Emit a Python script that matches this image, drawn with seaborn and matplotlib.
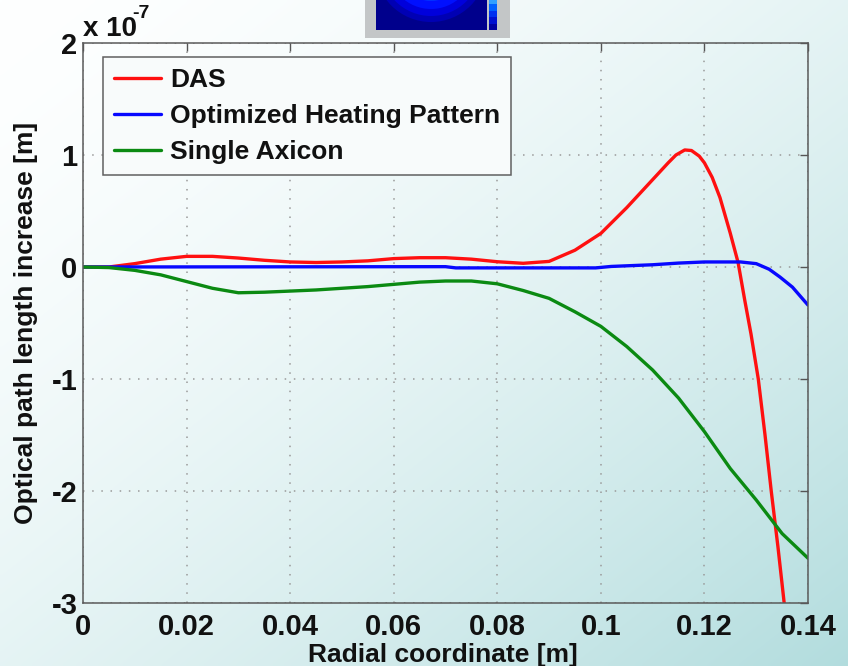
import numpy as np
import pandas as pd
import matplotlib
matplotlib.use("Agg")
import matplotlib.pyplot as plt
from matplotlib.patches import Circle, Rectangle
import seaborn as sns

# Radial coordinate [m] and optical path length increase [x 1e-7 m]
das_r = [0.0, 0.005, 0.01, 0.015, 0.02, 0.025, 0.03, 0.035, 0.04, 0.045,
         0.05, 0.055, 0.06, 0.065, 0.07, 0.075, 0.08, 0.085, 0.09, 0.095,
         0.1, 0.105, 0.11, 0.113, 0.1145, 0.1162, 0.1175, 0.119, 0.12, 0.1215,
         0.123, 0.125, 0.1265, 0.1278, 0.129, 0.1304, 0.1317, 0.1329, 0.1342,
         0.1354, 0.1362]
das_opl = [0.0, 0.0, 0.03, 0.07, 0.095, 0.095, 0.08, 0.06, 0.045, 0.04,
           0.045, 0.055, 0.075, 0.083, 0.083, 0.07, 0.047, 0.033, 0.05, 0.15,
           0.30, 0.53, 0.78, 0.93, 1.00, 1.045, 1.04, 0.99, 0.93, 0.80,
           0.62, 0.30, 0.04, -0.30, -0.60, -1.0, -1.5, -2.0, -2.5,
           -3.0, -3.3]

opt_r = [0.0, 0.07, 0.072, 0.099, 0.102, 0.11, 0.115, 0.12, 0.127, 0.13,
         0.1325, 0.1346, 0.137, 0.14]
opt_opl = [0.0, 0.003, -0.008, -0.008, 0.005, 0.02, 0.035, 0.045, 0.045, 0.03,
           -0.02, -0.09, -0.18, -0.34]

axi_r = [0.0, 0.005, 0.01, 0.015, 0.02, 0.025, 0.03, 0.035, 0.04, 0.045,
         0.05, 0.055, 0.06, 0.065, 0.07, 0.075, 0.08, 0.085, 0.09, 0.095,
         0.1, 0.105, 0.11, 0.115, 0.12, 0.125, 0.13, 0.135, 0.14]
axi_opl = [0.0, -0.005, -0.03, -0.07, -0.13, -0.19, -0.23, -0.225, -0.215, -0.205,
           -0.19, -0.175, -0.155, -0.135, -0.125, -0.125, -0.15, -0.21, -0.28, -0.40,
           -0.53, -0.71, -0.92, -1.17, -1.47, -1.80, -2.08, -2.38, -2.60]

series_names = ["DAS", "Optimized Heating Pattern", "Single Axicon"]
series_colors = ["#ff1010", "#0808ff", "#0b8a12"]

x_ticks = [0, 0.02, 0.04, 0.06, 0.08, 0.1, 0.12, 0.14]
x_tick_labels = ["0", "0.02", "0.04", "0.06", "0.08", "0.1", "0.12", "0.14"]
y_ticks = [-3, -2, -1, 0, 1, 2]

df = pd.concat([
    pd.DataFrame({"r": das_r, "opl": das_opl, "series": series_names[0]}),
    pd.DataFrame({"r": opt_r, "opl": opt_opl, "series": series_names[1]}),
    pd.DataFrame({"r": axi_r, "opl": axi_opl, "series": series_names[2]}),
], ignore_index=True)

sns.set_theme(style="white")
plt.rcParams["font.family"] = ["Liberation Sans", "DejaVu Sans"]
plt.rcParams["font.weight"] = "bold"
plt.rcParams["axes.unicode_minus"] = False

W, H = 848, 666
fig = plt.figure(figsize=(W / 100, H / 100), dpi=100)

# soft diagonal backdrop, white at top-left to pale teal at bottom-right
bg = fig.add_axes([0, 0, 1, 1], zorder=-10)
u = np.linspace(0, 1, 212)[None, :]
v = np.linspace(0, 1, 167)[:, None]
t = ((u + v) / 2) ** 1.6
c0 = np.array([0.995, 1.0, 1.0])
c1 = np.array([0.70, 0.865, 0.87])
img = c0[None, None, :] + (c1 - c0)[None, None, :] * t[:, :, None]
bg.imshow(img, aspect="auto", interpolation="bilinear", extent=[0, 1, 0, 1])
bg.set_axis_off()

# small colour-map thumbnail at the top edge
th = fig.add_axes([365 / W, 1 - 38 / H, 145 / W, 38 / H], zorder=-5)
th.set_xlim(365, 510)
th.set_ylim(38, 0)
th.set_facecolor("#c3c6c7")
th.add_patch(Rectangle((376, -5), 111, 35, facecolor="#00008c", edgecolor="none"))
for rad, col in [(56, "#0000b4"), (50, "#0000dc"), (43, "#0010ff"), (35, "#0030ff"), (26, "#0048ff")]:
    c = Circle((431, -34), rad, facecolor=col, edgecolor="none")
    th.add_patch(c)
    c.set_clip_path(Rectangle((376, -5), 111, 35, transform=th.transData))
cb_cols = ["#30a0ff", "#0060ff", "#0030f0", "#0010d0", "#0000a0"]
for i, col in enumerate(cb_cols):
    th.add_patch(Rectangle((489, -2 + i * 6.4), 8, 6.4, facecolor=col, edgecolor="none"))
th.set_xticks([])
th.set_yticks([])
for s in th.spines.values():
    s.set_visible(False)

ax = fig.add_axes([83 / W, 1 - 603 / H, 725 / W, 560 / H])
ax.set_facecolor("none")

sns.lineplot(data=df, x="r", y="opl", hue="series", hue_order=series_names,
             palette=dict(zip(series_names, series_colors)), sort=False,
             estimator=None, linewidth=2.4, ax=ax, legend=True)

ax.set_xlim(0, 0.14)
ax.set_ylim(-3, 2)
ax.set_xticks(x_ticks)
ax.set_xticklabels(x_tick_labels)
ax.set_yticks(y_ticks)
ax.grid(True, linestyle=(0, (1, 5)), color="#9a9a9a", linewidth=1.1)
ax.tick_params(direction="in", length=6, width=1, color="#555555",
               top=True, right=True, labelsize=21, labelcolor="#111111")
ax.tick_params(axis="x", pad=7)
ax.tick_params(axis="y", pad=4)
for lab in ax.get_xticklabels() + ax.get_yticklabels():
    lab.set_fontweight("bold")
for s in ax.spines.values():
    s.set_color("#5a5a5a")
    s.set_linewidth(1.1)

ax.set_xlabel("Radial coordinate [m]", fontsize=19, fontweight="bold", color="#111111")
ax.set_ylabel("Optical path length increase [m]", fontsize=19, fontweight="bold", color="#111111")
ax.xaxis.set_label_coords(0.497, -0.0715)
ax.yaxis.set_label_coords(-0.062, 0.5)

# exponent of the y axis, MATLAB style
ax.text(0.0, 1.0125, "x 10", transform=ax.transAxes, fontsize=20,
        fontweight="bold", color="#111111", ha="left", va="baseline")
ax.text(0.068, 1.0446, "-7", transform=ax.transAxes, fontsize=14,
        fontweight="bold", color="#111111", ha="left", va="baseline")

leg = ax.legend(loc="upper left", bbox_to_anchor=(0.027, 0.975), fontsize=19,
                frameon=True, fancybox=False, framealpha=1, handlelength=1.8,
                handletextpad=0.33, borderpad=0.42, labelspacing=0.45,
                borderaxespad=0)
leg.get_frame().set_facecolor("#f8fbfb")
leg.get_frame().set_edgecolor("#606060")
leg.get_frame().set_linewidth(1.1)
for txt in leg.get_texts():
    txt.set_fontweight("bold")
    txt.set_color("#111111")
for ln in leg.get_lines():
    ln.set_linewidth(2.4)

fig.savefig("out.png", dpi=100)
